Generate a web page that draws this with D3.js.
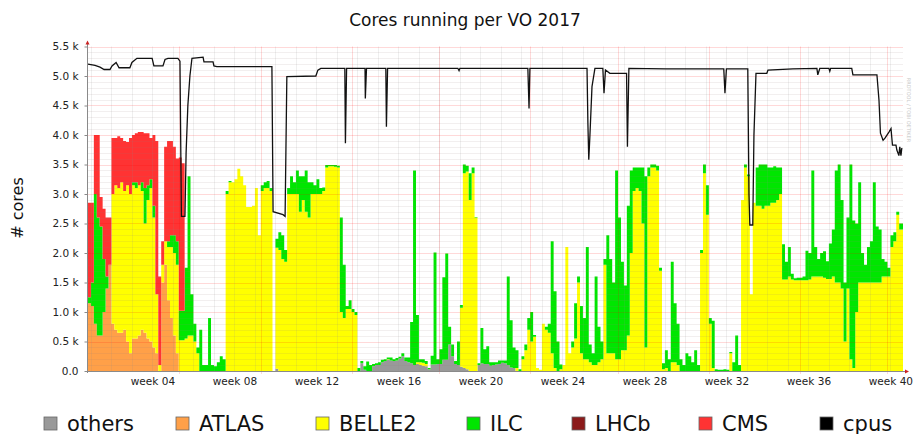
<!DOCTYPE html>
<html>
<head>
<meta charset="utf-8">
<script src="https://cdn.jsdelivr.net/npm/d3@7"></script>
<style>
  body { margin: 0; background: #fff; }
  svg { display: block; }
  text { font-family: "DejaVu Sans", sans-serif; }
</style>
</head>
<body>
<svg id="chart" width="913" height="434"></svg>
<script>
// one value per day, starting 2017-01-01
const keys = ["others", "ATLAS", "BELLE2", "ILC", "LHCb", "CMS"];
const colors = ["#999999", "#ffa048", "#ffff00", "#00e600", "#8b1a1a", "#ff3333"];

const others = [
  0,0,0,0,0,0,0,0,0,0, 0,0,0,0,0,0,0,0,0,0, 0,0,0,0,0,0,0,0,0,0,
  0,0,0,0,0,0,0,0,0,0, 0,0,0,0,0,0,0,0,0,0, 0,0,0,0,0,0,0,0,0,0,
  0,0,0,0,40,0,0,0,0,0, 0,0,0,0,0,0,0,0,0,0, 0,0,0,0,0,0,0,0,0,0,
  0,0,0,130,20,0,0,80,100,100,
  150,170,190,180,170,180,210,250,170,150,
  130,100,120,100,90,80,30,110,110,120,
  120,190,190,450,250,120,100,70,50,30,
  0,0,0,100,130,120,120,90,100,110,
  120,140,130,100,60,50,0,0,0,0
];
const atlas = [
  1150,1100,800,600,600,1000,1400,1800,800,700,
  650,650,700,500,300,550,550,600,700,650,
  550,500,400,300,0,1500,1800,1200,900,600,
  300,0,0,0,0,0,0,0,0
];
const lhcb = [
  0,0,0,0,0,0,0,0,0,0, 0,0,0,0,0,0,0,0,0,0,
  0,0,0,0,0,0,0,0,0,0, 0,0,0,0,0,0,0,0,0
];
const cms = [
  1600,1350,1000,1400,500,850,1000,800,950,800,
  880,750,850,730,950,800,830,900,850,930,
  880,700,1200,2600,1500,400,1600,1700,1600,1500,
  1400,2600,2500,0,0,0,0,0,0
];
const belle2 = [
  0,0,0,0,0,0,0,0,2200,2450,
  2450,2550,2350,2650,2700,2600,2550,2550,2350,1850,
  2350,2600,2200,1000,100,300,400,900,1200,1400,
  1500,520,520,550,600,600,500,300,0,0,
  0,0,0,0,0,0,0,3000,3200,3200,
  3250,3430,3300,3150,2780,2780,2800,3100,2300,3050,
  3100,3100,3050,0,2050,2050,1900,1850,3000,3000,
  3000,3000,2700,2900,2700,2600,3000,3000,3000,3000,
  3050,3450,3470,3470,3460,3450,1000,900,1050,1050,
  1000,950,0,0,0,0,0,0,0,0,
  0,0,10,0,0,0,0,0,0,0,
  0,0,30,50,50,40,0,0,0,0,
  0,0,0,0,0,0,0,1000,3300,3350,
  2900,3350,2600,0,0,0,0,0,0,0,
  0,0,0,0,0,0,50,0,200,350,
  700,500,580,50,20,800,700,650,300,50,
  0,30,100,2100,300,400,550,1500,300,200,
  200,150,100,100,150,200,1800,300,300,300,
  200,200,350,350,600,2000,3050,3100,3050,2500,
  400,3300,3450,3450,3400,1700,30,50,0,150,
  150,100,0,0,0,0,0,0,0,2000,
  3350,2650,800,50,0,0,0,0,0,300,
  0,0,0,2900,3450,3300,1300,2850,2800,2800,
  2750,2800,2800,2850,2850,2900,3000,1550,1550,1600,
  1550,1540,1540,1540,1540,1540,1550,1600,1600,1600,
  1600,1580,1560,1560,1600,1500,1500,1400,500,1400,
  200,50,1000,1500,1500,1500,1500,1500,1500,1500,
  1500,1600,1600,1600,2100,2200,2650,2400,2400
];
const ilc = [
  100,400,2200,2000,1850,900,200,0,0,0,
  0,0,0,0,0,50,100,0,150,600,
  250,150,200,0,0,0,0,100,200,300,
  400,500,500,1200,2700,700,300,100,700,100,
  100,900,100,80,150,250,200,50,20,0,
  0,0,0,0,0,0,0,0,0,100,
  100,120,50,0,150,300,400,200,100,300,
  200,400,600,400,700,600,200,150,250,100,
  60,40,20,20,30,30,1600,900,50,150,
  50,50,50,40,60,160,100,40,30,50,
  40,30,30,50,30,40,30,50,60,80,
  700,3300,800,50,60,50,20,150,1900,80,
  250,1400,1800,300,200,50,400,50,150,100,
  450,100,10,30,600,250,300,60,50,40,
  60,40,50,1500,800,350,300,30,50,100,
  200,500,30,0,0,0,50,150,1900,1300,
  500,80,0,0,0,100,600,100,800,700,
  1900,300,200,1500,600,300,100,2000,1600,1200,
  3200,2400,1500,1100,2200,1400,400,350,400,950,
  2900,150,50,50,80,50,100,300,200,1700,
  1000,700,200,100,300,250,150,350,100,50,
  150,500,100,800,30,20,20,30,20,20,
  150,600,100,0,50,30,0,0,650,700,
  750,700,650,600,620,550,450,600,300,500,
  100,30,40,40,60,500,450,1800,500,300,
  400,450,300,600,800,1900,2000,1500,1000,1200,
  3300,2500,1500,1700,500,300,600,700,1700,950,
  900,300,250,150,200,150,50,100,100
];
// cpus line: change points (day since Jan 1, cores)
const cpusDay = [0,2.4,4.1,5.5,7.5,8.2,9.6,10.6,14.3,15.0,16.7,21.9,22.5,25.6,26.3,27.3,30.7,31.4,31.9,33.1,
  33.5,34.1,34.8,35.5,39.3,39.6,42.7,43.0,44.0,62.8,63.2,66.6,67.3,67.9,77.8,78.5,79.5,87.7,87.9,88.3,
  94.6,94.7,95.1,101.7,101.9,102.3,126.3,126.7,127.0,150.2,150.6,150.9,170.4,170.7,171.0,171.4,172.1,173.1,
  175.8,176.2,176.7,178.2,183.9,184.2,184.7,197.3,217.1,217.5,218.0,225.3,225.7,226.0,227.0,227.4,228.1,
  231.8,232.2,240.7,248.9,249.2,249.9,253.0,253.3,253.6,260.8,261.2,269.4,270.1,270.6,271.5,272.2,273.5,
  274.2,274.7,275.9,276.2,276.9,277.2,277.6,277.9];
const cpusVal = [5200,5180,5150,5110,5110,5170,5230,5140,5140,5230,5300,5300,5170,5170,5280,5300,5300,5250,2620,2620,
  3700,4500,5000,5300,5320,5240,5240,5170,5160,5160,2700,2650,2620,4990,5000,5100,5130,5130,3860,5130,
  5130,4620,5130,5130,4140,5130,5130,5090,5130,5130,4450,5130,5130,4200,3580,4000,4820,5130,
  5130,4710,5100,5045,5045,3800,5130,5120,5120,4710,5120,5120,3000,2475,2475,4000,5045,
  5045,5100,5120,5130,5020,5130,5130,5080,5130,5130,5020,5020,4590,4030,3910,3950,4050,
  4110,3830,3830,3745,3650,3800,3650,3780];

const yTicks = [0,500,1000,1500,2000,2500,3000,3500,4000,4500,5000,5500];
const yTickLabels = ["0.0","0.5 k","1.0 k","1.5 k","2.0 k","2.5 k","3.0 k","3.5 k","4.0 k","4.5 k","5.0 k","5.5 k"];
const weekTicks = [4,8,12,16,20,24,28,32,36,40];
const legendNames = ["others","ATLAS","BELLE2","ILC","LHCb","CMS","cpus"];

const DAY = 864e5;
const t0 = Date.UTC(2017, 0, 1);
const lastDay = 278.3;
const nDays = belle2.length;

const rows = [];
for (let i = 0; i < nDays; i++) {
  rows.push({
    date: new Date(t0 + i * DAY),
    others: others[i] || 0, ATLAS: atlas[i] || 0, BELLE2: belle2[i] || 0,
    ILC: ilc[i] || 0, LHCb: lhcb[i] || 0, CMS: cms[i] || 0
  });
}
// close the last step at the right edge
rows.push(Object.assign({}, rows[rows.length - 1], { date: new Date(t0 + lastDay * DAY) }));

const svg = d3.select("#chart");
svg.append("rect").attr("width", 913).attr("height", 434).attr("fill", "#fff");

const pLeft = 88, pRight = 903, pBottom = 371, pTop = 46.5;
const x = d3.scaleUtc().domain([new Date(t0), new Date(t0 + lastDay * DAY)]).range([pLeft, pRight]);
const y = d3.scaleLinear().domain([0, 5500]).range([pBottom, pTop]);

// stacked areas
const stack = d3.stack().keys(keys)(rows);
const area = d3.area().curve(d3.curveStepAfter)
  .x(d => x(d.data.date)).y0(d => y(d[0])).y1(d => y(d[1]));
svg.append("g").selectAll("path").data(stack).join("path")
  .attr("fill", (d, i) => colors[i]).attr("d", area);

// grid on top, faint
const grid = svg.append("g");
const minorY = d3.range(100, 5501, 100).filter(v => v % 500 !== 0);
grid.selectAll(".hy").data(minorY).join("line")
  .attr("x1", pLeft).attr("x2", pRight).attr("y1", d => Math.round(y(d)) + 0.5).attr("y2", d => Math.round(y(d)) + 0.5)
  .attr("stroke", "rgba(150,120,120,0.12)");
grid.selectAll(".my").data(yTicks.slice(1)).join("line")
  .attr("x1", pLeft).attr("x2", pRight).attr("y1", d => Math.round(y(d)) + 0.5).attr("y2", d => Math.round(y(d)) + 0.5)
  .attr("stroke", "rgba(255,0,0,0.15)");
const mondays = d3.utcMonday.range(new Date(t0), new Date(t0 + lastDay * DAY));
grid.selectAll(".vx").data(mondays).join("line")
  .attr("x1", d => Math.round(x(d)) + 0.5).attr("x2", d => Math.round(x(d)) + 0.5)
  .attr("y1", pTop).attr("y2", pBottom)
  .attr("stroke", "rgba(140,140,140,0.14)");
const months = d3.utcMonth.range(new Date(t0 + DAY), new Date(t0 + lastDay * DAY));
grid.selectAll(".mx").data(months).join("line")
  .attr("x1", d => Math.round(x(d)) + 0.5).attr("x2", d => Math.round(x(d)) + 0.5)
  .attr("y1", pTop).attr("y2", pBottom + 3)
  .attr("stroke", "rgba(255,0,0,0.15)");

// cpus line
const cpus = cpusDay.map((d, i) => ({ date: new Date(t0 + d * DAY), v: cpusVal[i] }));
svg.append("path").datum(cpus)
  .attr("fill", "none").attr("stroke", "#111").attr("stroke-width", 1.3)
  .attr("d", d3.line().x(d => x(d.date)).y(d => y(d.v)));

// axes
const axisColor = "#8a8a8a";
svg.append("line").attr("x1", pLeft - 0.5).attr("x2", pLeft - 0.5).attr("y1", pBottom + 2).attr("y2", pTop - 3)
  .attr("stroke", axisColor);
svg.append("line").attr("x1", pLeft - 2).attr("x2", pRight + 3).attr("y1", pBottom + 0.5).attr("y2", pBottom + 0.5)
  .attr("stroke", axisColor);
svg.append("path").attr("d", `M${pLeft - 2.5},${pTop - 2} L${pLeft - 0.5},${pTop - 6} L${pLeft + 1.5},${pTop - 2} Z`).attr("fill", "#cc2222");
svg.append("path").attr("d", `M${pRight + 2},${pBottom - 1.5} L${pRight + 6},${pBottom + 0.5} L${pRight + 2},${pBottom + 2.5} Z`).attr("fill", "#cc2222");

const yAxis = d3.axisLeft(y).tickValues(yTicks).tickSize(3)
  .tickFormat((d, i) => yTickLabels[i]);
const gy = svg.append("g").attr("transform", `translate(${pLeft - 0.5},0)`).call(yAxis);
gy.select(".domain").remove();
gy.selectAll(".tick line").attr("stroke", axisColor);
gy.selectAll(".tick text").attr("x", -9).attr("font-size", 10.5).attr("font-family", "DejaVu Sans").attr("fill", "#222");

const weekDate = w => new Date(Date.UTC(2017, 0, 2) + (w - 1) * 7 * DAY);
const xAxis = d3.axisBottom(x).tickValues(weekTicks.map(weekDate)).tickSize(0)
  .tickFormat((d, i) => "week " + d3.format("02")(weekTicks[i]));
const gx = svg.append("g").attr("transform", `translate(0,${pBottom})`).call(xAxis);
gx.select(".domain").remove();
gx.selectAll(".tick text").attr("dy", 0).attr("y", 14).attr("font-size", 10.5).attr("font-family", "DejaVu Sans").attr("fill", "#222");

// titles
svg.append("text").attr("x", 465).attr("y", 26).attr("text-anchor", "middle")
  .attr("font-size", 17).attr("fill", "#111").text("Cores running per VO 2017");
svg.append("text").attr("transform", "translate(23,208) rotate(-90)").attr("text-anchor", "middle")
  .attr("font-size", 16).attr("fill", "#111").text("# cores");

// legend
const legendColors = colors.concat(["#000000"]);
const legendX = [44, 176, 316, 467, 572, 699, 820];
const lg = svg.append("g").selectAll("g").data(legendNames).join("g")
  .attr("transform", (d, i) => `translate(${legendX[i]},417)`);
lg.append("rect").attr("width", 13).attr("height", 13)
  .attr("fill", (d, i) => legendColors[i]).attr("stroke", "#666").attr("stroke-width", 0.8);
lg.append("text").attr("x", 23).attr("y", 13.5).attr("font-size", 21).attr("fill", "#111").text(d => d);

// rrdtool watermark
svg.append("text").attr("transform", "translate(907,110) rotate(90)").attr("text-anchor", "middle")
  .attr("font-size", 5).attr("fill", "#c8c8c8").text("RRDTOOL / TOBI OETIKER");
</script>
</body>
</html>
